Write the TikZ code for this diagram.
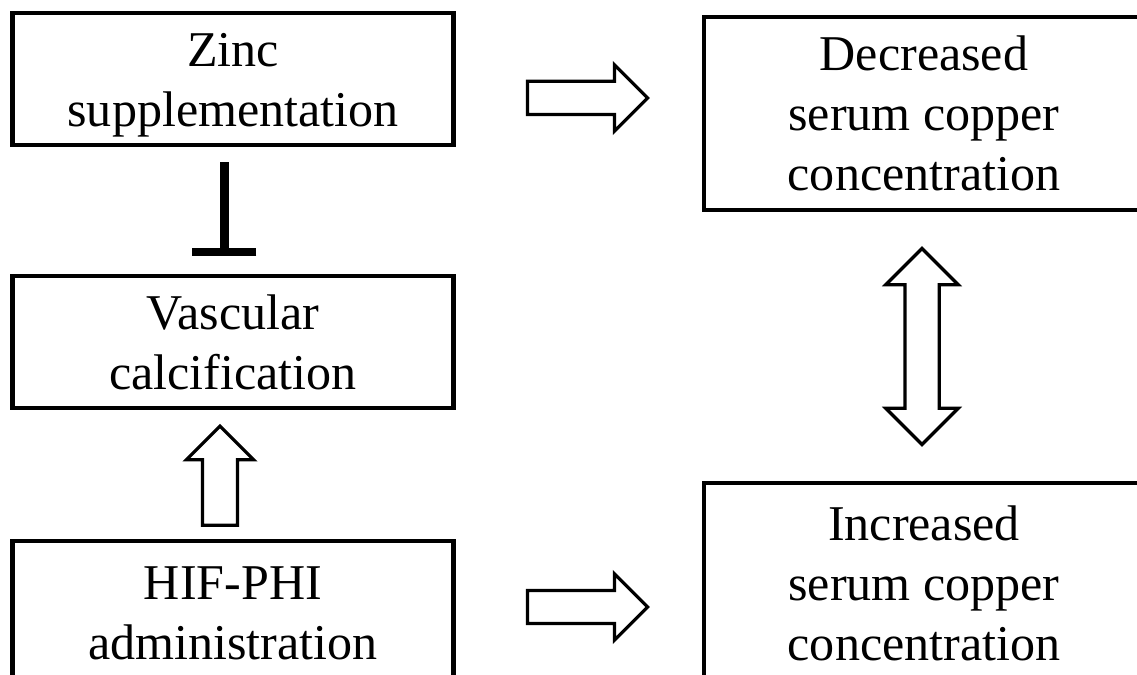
\documentclass[tikz,border=0pt]{standalone}
\usepackage{fontspec}
\setmainfont{Liberation Serif}
\usetikzlibrary{shapes.arrows,arrows.meta,calc,positioning}

\begin{document}
\begin{tikzpicture}[x=0.02cm, y=-0.02cm,
    box/.style={draw, line width=0.09cm, align=center, inner sep=0pt,
      font=\fontsize{28.5}{34.1}\selectfont},
    leftbox/.style={box, minimum width=8.83cm},
    rightbox/.style={box, minimum width=8.8cm},
    blockarrow/.style={single arrow, draw, fill=white, line width=0.065cm,
      inner xsep=0pt, inner ysep=0.3cm, single arrow head extend=0.33cm,
      minimum height=2.4cm, anchor=tail},
    inhibit/.style={line width=0.18cm, -{Bar[width=1.3cm, line width=0.16cm]}}]
  \useasboundingbox[fill=white] (0,0) rectangle (1137,675);
  \clip (0,0) rectangle (1137,675);

  % left column
  \node [leftbox, minimum height=2.65cm] (zinc) at (233,79)
    {\rule{0pt}{0.93cm}Zinc\\supplementation};
  \node [leftbox, minimum height=2.64cm] (vasc) at (233,342) {Vascular\\calcification};
  \node [leftbox, minimum height=2.88cm] (hif) at (233,613) {HIF-PHI\\administration};
  % right column (cut at the page edge)
  \node [rightbox, minimum height=3.86cm] (dec) at (924,113.5)
    {Decreased\\serum copper\\concentration};
  \node [rightbox, minimum height=4cm] (inc) at (924,583)
    {Increased\\serum copper\\concentration};

  \draw [inhibit] ([shift={(-9,15)}]zinc.south) -- ([shift={(-9,-18)}]vasc.north);

  \node [blockarrow] (zincdec) at ($(zinc.east)+(70,19)$) {};
  \node [blockarrow] (hifinc) at ($(hif.east)+(70,-6)$) {};
  \node [blockarrow, rotate=90, inner ysep=0.32cm, single arrow head extend=0.32cm,
    minimum height=1.98cm] (hifvasc) at ($(hif.north)+(-13,-12)$) {};
  \node [double arrow, draw, fill=white, line width=0.065cm, rotate=90,
    inner xsep=0pt, inner ysep=0.31cm, double arrow head extend=0.38cm,
    minimum height=3.92cm] (decinc) at ($(dec.south)!0.5!(inc.north)+(-2,0)$) {};
\end{tikzpicture}
\end{document}
